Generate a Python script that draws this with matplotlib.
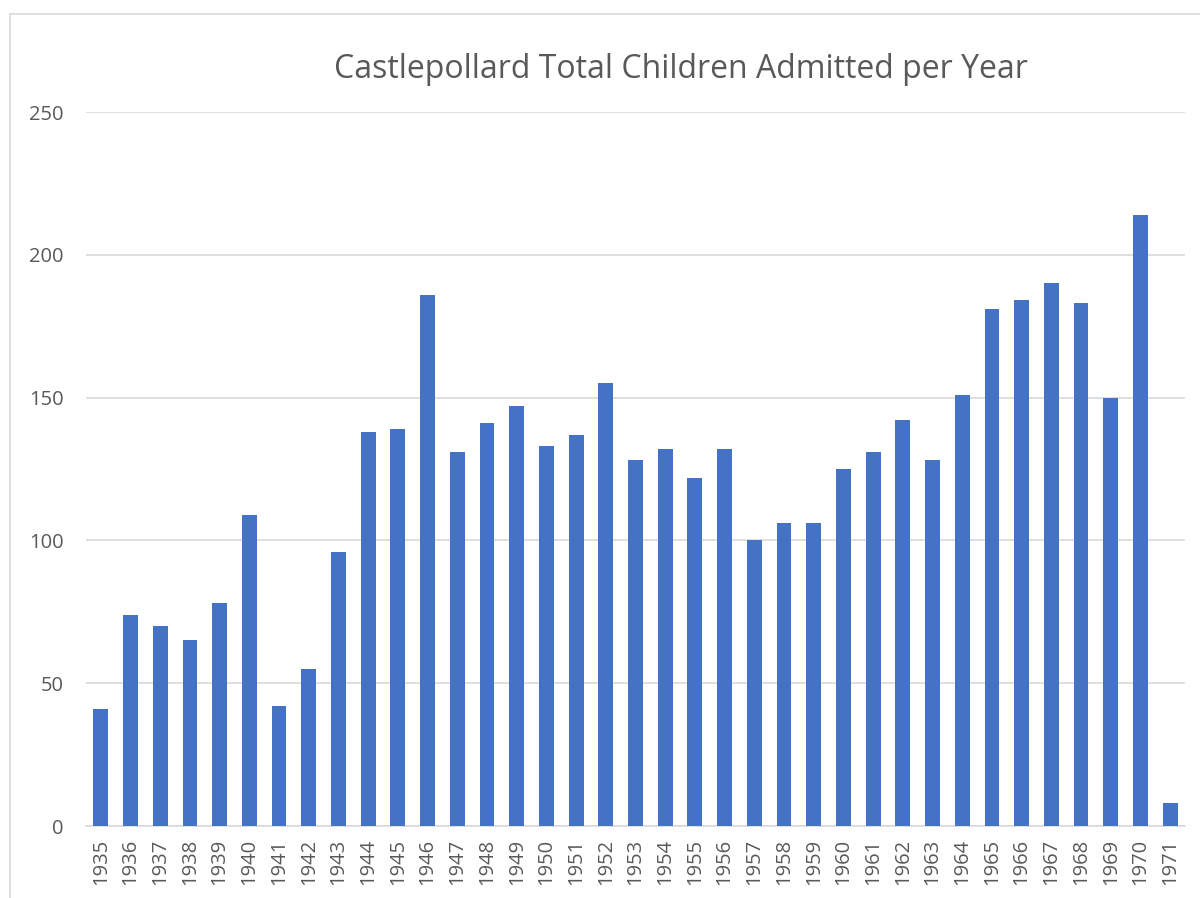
import matplotlib
matplotlib.use("Agg")
import matplotlib.pyplot as plt
from matplotlib.patches import Rectangle

years = list(range(1935, 1972))
admitted = [41, 74, 70, 65, 78, 109, 42, 55, 96, 138,
            139, 186, 131, 141, 147, 133, 137, 155, 128, 132,
            122, 132, 100, 106, 106, 125, 131, 142, 128, 151,
            181, 184, 190, 183, 150, 214, 8]
yticks = [0, 50, 100, 150, 200, 250]

plt.rcParams['font.family'] = ['Open Sans', 'DejaVu Sans']

fig = plt.figure(figsize=(12, 8.98), dpi=100)
ax = fig.add_axes([86 / 1200, 1 - 826 / 898, 1099 / 1200, 714 / 898])

# chart area outline (runs off the right and bottom edges)
fig.patches.append(Rectangle((10 / 1200, -0.05), 1.2, 1 - 14 / 898 + 0.05,
                             transform=fig.transFigure, fill=False,
                             edgecolor='#d9d9d9', linewidth=1.2))

x = range(len(years))
ax.bar(x, admitted, width=0.5, color='#4472c4', zorder=3)

ax.set_xlim(-0.5, len(years) - 0.5)
ax.set_ylim(0, 250)
ax.set_yticks(yticks)
ax.set_xticks(list(x))
ax.set_xticklabels([str(y) for y in years], rotation=90)

ax.grid(axis='y', color='#d9d9d9', linewidth=1.2, zorder=0)
for side in ['top', 'right', 'left']:
    ax.spines[side].set_visible(False)
ax.spines['bottom'].set_color('#d9d9d9')
ax.spines['bottom'].set_linewidth(1.2)
ax.tick_params(axis='both', length=0, labelsize=14.5, labelcolor='#595959')
ax.tick_params(axis='y', pad=16)
ax.tick_params(axis='x', pad=9)

fig.text(681 / 1200, 1 - 69 / 898, 'Castlepollard Total Children Admitted per Year',
         ha='center', va='center', fontsize=23, color='#595959')

fig.savefig('out.png', dpi=100)
